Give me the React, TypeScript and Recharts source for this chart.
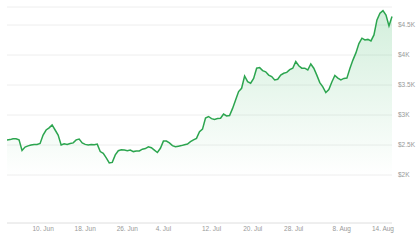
import { AreaChart, Area, XAxis, YAxis, CartesianGrid } from 'recharts';

// price samples, evenly spaced in time
const prices = [
  2585, 2590, 2605, 2605, 2585, 2410, 2465, 2485, 2500, 2510,
  2510, 2525, 2665, 2750, 2785, 2835, 2750, 2665, 2500, 2520,
  2510, 2525, 2535, 2585, 2600, 2535, 2510, 2500, 2510, 2505,
  2515, 2390, 2360, 2285, 2200, 2210, 2335, 2405, 2420, 2415,
  2405, 2415, 2390, 2400, 2400, 2430, 2440, 2470, 2455, 2415,
  2375, 2445, 2565, 2565, 2535, 2490, 2470, 2480, 2490, 2505,
  2515, 2555, 2585, 2610, 2720, 2765, 2950, 2975, 2940, 2925,
  2940, 2945, 3015, 2985, 2990, 3110, 3250, 3390, 3445, 3650,
  3555, 3530, 3610, 3780, 3790, 3740, 3720, 3665, 3640, 3585,
  3595, 3665, 3695, 3710, 3755, 3780, 3890, 3820, 3780, 3780,
  3750, 3850, 3780, 3665, 3540, 3470, 3375, 3425, 3550, 3660,
  3615, 3585, 3610, 3615, 3775, 3915, 4035, 4190, 4280, 4250,
  4260, 4235, 4335, 4585, 4695, 4740, 4665, 4485, 4640,
];

const xTickIndex = [12, 26, 40, 52, 68, 81.7, 95.3, 111.3, 125];
const xTickLabels = ['10. Jun', '18. Jun', '26. Jun', '4. Jul', '12. Jul', '20. Jul', '28. Jul', '8. Aug', '14. Aug'];
const yTicks = [2000, 2500, 3000, 3500, 4000, 4500];

const data = prices.map((price, i) => ({ i, price }));

const fmtPrice = (v: number) => `$${v / 1000}K`;
const fmtDate = (v: number) => xTickLabels[xTickIndex.indexOf(v)] ?? '';

export default function App() {
  return (
    <div style={{ position: 'absolute', left: 0, top: 0, fontFamily: 'Liberation Sans, Arial, sans-serif' }}>
      <AreaChart width={420} height={240} data={data} margin={{ top: 7, right: 0, left: 7, bottom: 0 }}>
        <defs>
          <linearGradient id="priceFill" x1="0" y1="0" x2="0" y2="1">
            <stop offset="0%" stopColor="#3cb864" stopOpacity={0.38} />
            <stop offset="78%" stopColor="#3cb864" stopOpacity={0} />
          </linearGradient>
        </defs>
        <CartesianGrid vertical={false} stroke="#eeeeee" />
        <XAxis
          dataKey="i"
          type="number"
          domain={[0, prices.length - 1]}
          ticks={xTickIndex}
          tickFormatter={fmtDate}
          height={17}
          tickLine={false}
          tickSize={3}
          tickMargin={0}
          axisLine={{ stroke: '#e6e6e6' }}
          tick={{ fontSize: 6.5, fill: '#999' }}
          interval={0}
        />
        <YAxis
          orientation="right"
          domain={[1200, 4800]}
          ticks={yTicks}
          tickFormatter={fmtPrice}
          width={28}
          axisLine={false}
          tickLine={false}
          tickSize={0}
          tickMargin={6}
          tick={{ fontSize: 6.5, fill: '#999' }}
        />
        <Area
          type="linear"
          dataKey="price"
          stroke="#2ca54f"
          strokeWidth={1.5}
          fill="url(#priceFill)"
          isAnimationActive={false}
          dot={false}
          activeDot={false}
        />
      </AreaChart>
    </div>
  );
}
